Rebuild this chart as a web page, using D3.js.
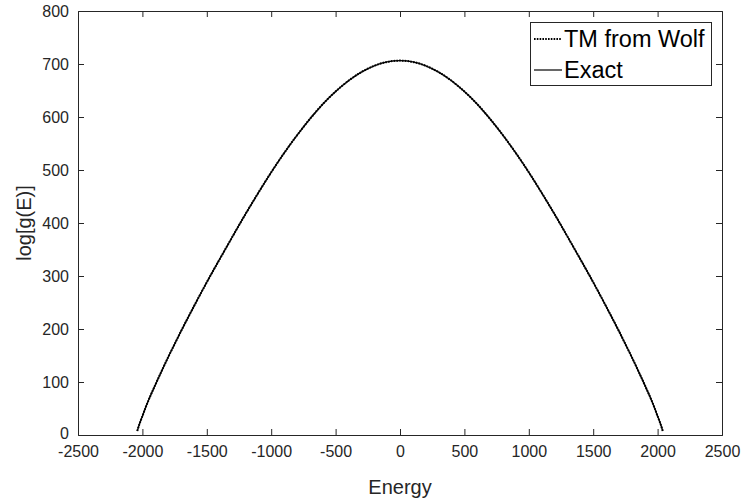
<!DOCTYPE html>
<html><head><meta charset="utf-8">
<script src="https://cdn.jsdelivr.net/npm/d3@7"></script>
<style>body{margin:0;background:#fff;} svg{display:block;font-family:"Liberation Sans",Arial,sans-serif;}</style>
</head><body>
<svg id="c" width="744" height="501"></svg>
<script>
// Energy values (x) and log[g(E)] values
const energy = [-2040,-2032,-2024,-2016,-2008,-2000,-1975,-1950,-1900,-1850,-1800,-1750,-1700,-1600,-1500,-1400,-1300,-1200,-1100,-1000,-900,-800,-700,-600,-500,-400,-300,-200,-100,0,
  100,200,300,400,500,600,700,800,900,1000,1100,1200,1300,1400,1500,1600,1700,1750,1800,1850,1900,1950,1975,2000,2008,2016,2024,2032,2040];
const tmFromWolf = [7.6,13.9,19.8,25.3,30.6,35.6,52,67,94.5,121,146.8,171.4,195.9,242.8,288.2,331.7,374.5,416.6,457,495.7,531.8,565.3,596.2,624.2,648.1,668.4,684.8,696.6,704,706.4,
  704,696.6,684.8,668.4,648.1,624.2,596.2,565.3,531.8,495.7,457,416.6,374.5,331.7,288.2,242.8,195.9,171.4,146.8,121,94.5,67,52,35.6,30.6,25.3,19.8,13.9,7.6];
const exact = [7.6,13.9,19.8,25.3,30.6,35.6,52,67,94.5,121,146.8,171.4,195.9,242.8,288.2,331.7,374.5,416.6,457,495.7,531.8,565.3,596.2,624.2,648.1,668.4,684.8,696.6,704,706.4,
  704,696.6,684.8,668.4,648.1,624.2,596.2,565.3,531.8,495.7,457,416.6,374.5,331.7,288.2,242.8,195.9,171.4,146.8,121,94.5,67,52,35.6,30.6,25.3,19.8,13.9,7.6];
const xTicks = [-2500,-2000,-1500,-1000,-500,0,500,1000,1500,2000,2500];
const yTicks = [0,100,200,300,400,500,600,700,800];
const legendLabels = ["TM from Wolf","Exact"];
const xTitle = "Energy", yTitle = "log[g(E)]";

const svg = d3.select("#c");
const L=78, R=722, T=11, B=435;
const x = d3.scaleLinear().domain([-2500,2500]).range([L,R]);
const y = d3.scaleLinear().domain([0,800]).range([B,T]);
const axc = "#262626", tl = 6;
const fmt = d => String(d);

const line = d3.line().x(d=>x(d[0])).y(d=>y(d[1])).curve(d3.curveMonotoneX);
const exactPts = energy.map((e,i)=>[e,exact[i]]);
const tmPts = energy.map((e,i)=>[e,tmFromWolf[i]]);
svg.append("path").attr("d",line(exactPts)).attr("fill","none").attr("stroke","#000").attr("stroke-width",1.4);
svg.append("path").attr("d",line(tmPts)).attr("fill","none").attr("stroke","#000").attr("stroke-width",2).attr("stroke-dasharray","1.6,1.2");

// axes (MATLAB style box with inward ticks on all sides)
const gx = svg.append("g").attr("transform",`translate(0,${B})`)
  .call(d3.axisBottom(x).tickValues(xTicks).tickSize(-tl).tickPadding(tl+5).tickFormat(fmt));
const gxt = svg.append("g").attr("transform",`translate(0,${T})`)
  .call(d3.axisTop(x).tickValues(xTicks).tickSize(-tl).tickFormat(""));
const gy = svg.append("g").attr("transform",`translate(${L},0)`)
  .call(d3.axisLeft(y).tickValues(yTicks).tickSize(-tl).tickPadding(tl+3).tickFormat(fmt));
const gyr = svg.append("g").attr("transform",`translate(${R},0)`)
  .call(d3.axisRight(y).tickValues(yTicks).tickSize(-tl).tickFormat(""));
[gx,gxt,gy,gyr].forEach(g=>{
  g.select(".domain").attr("stroke",axc).attr("stroke-width",1);
  g.selectAll(".tick line").attr("stroke",axc).attr("stroke-width",1);
  g.selectAll(".tick text").attr("fill",axc).attr("font-size",16).attr("font-family","Liberation Sans, Arial, sans-serif");
});
gx.selectAll(".tick line").filter(d=>d===-2500||d===2500).remove();
gxt.selectAll(".tick line").filter(d=>d===-2500||d===2500).remove();
gy.selectAll(".tick line").filter(d=>d===0||d===800).remove();
gyr.selectAll(".tick line").filter(d=>d===0||d===800).remove();
// nudge the y "0" label up slightly so it clears the x labels
gy.selectAll(".tick text").filter(d=>d===0).attr("dy","0.2em");

svg.append("text").attr("x",(L+R)/2).attr("y",494).attr("text-anchor","middle")
  .attr("font-size",20).attr("fill",axc).text(xTitle);
svg.append("text").attr("transform",`translate(31,${(T+B)/2}) rotate(-90)`).attr("text-anchor","middle")
  .attr("font-size",20).attr("fill",axc).text(yTitle);

// legend
const lg = svg.append("g");
lg.append("rect").attr("x",530.5).attr("y",22.5).attr("width",181).attr("height",63)
  .attr("fill","#fff").attr("stroke",axc).attr("stroke-width",1);
const rows = [{lab:legendLabels[0],dash:"1.6,1.2",w:1.8,yy:39},{lab:legendLabels[1],dash:null,w:1.2,yy:70}];
rows.forEach(r=>{
  const ln = lg.append("line").attr("x1",534).attr("x2",562).attr("y1",r.yy).attr("y2",r.yy)
    .attr("stroke","#000").attr("stroke-width",r.w);
  if(r.dash) ln.attr("stroke-dasharray",r.dash);
  lg.append("text").attr("x",564).attr("y",r.yy+8).attr("font-size",23.5).attr("fill","#000").text(r.lab);
});
</script>
</body></html>
